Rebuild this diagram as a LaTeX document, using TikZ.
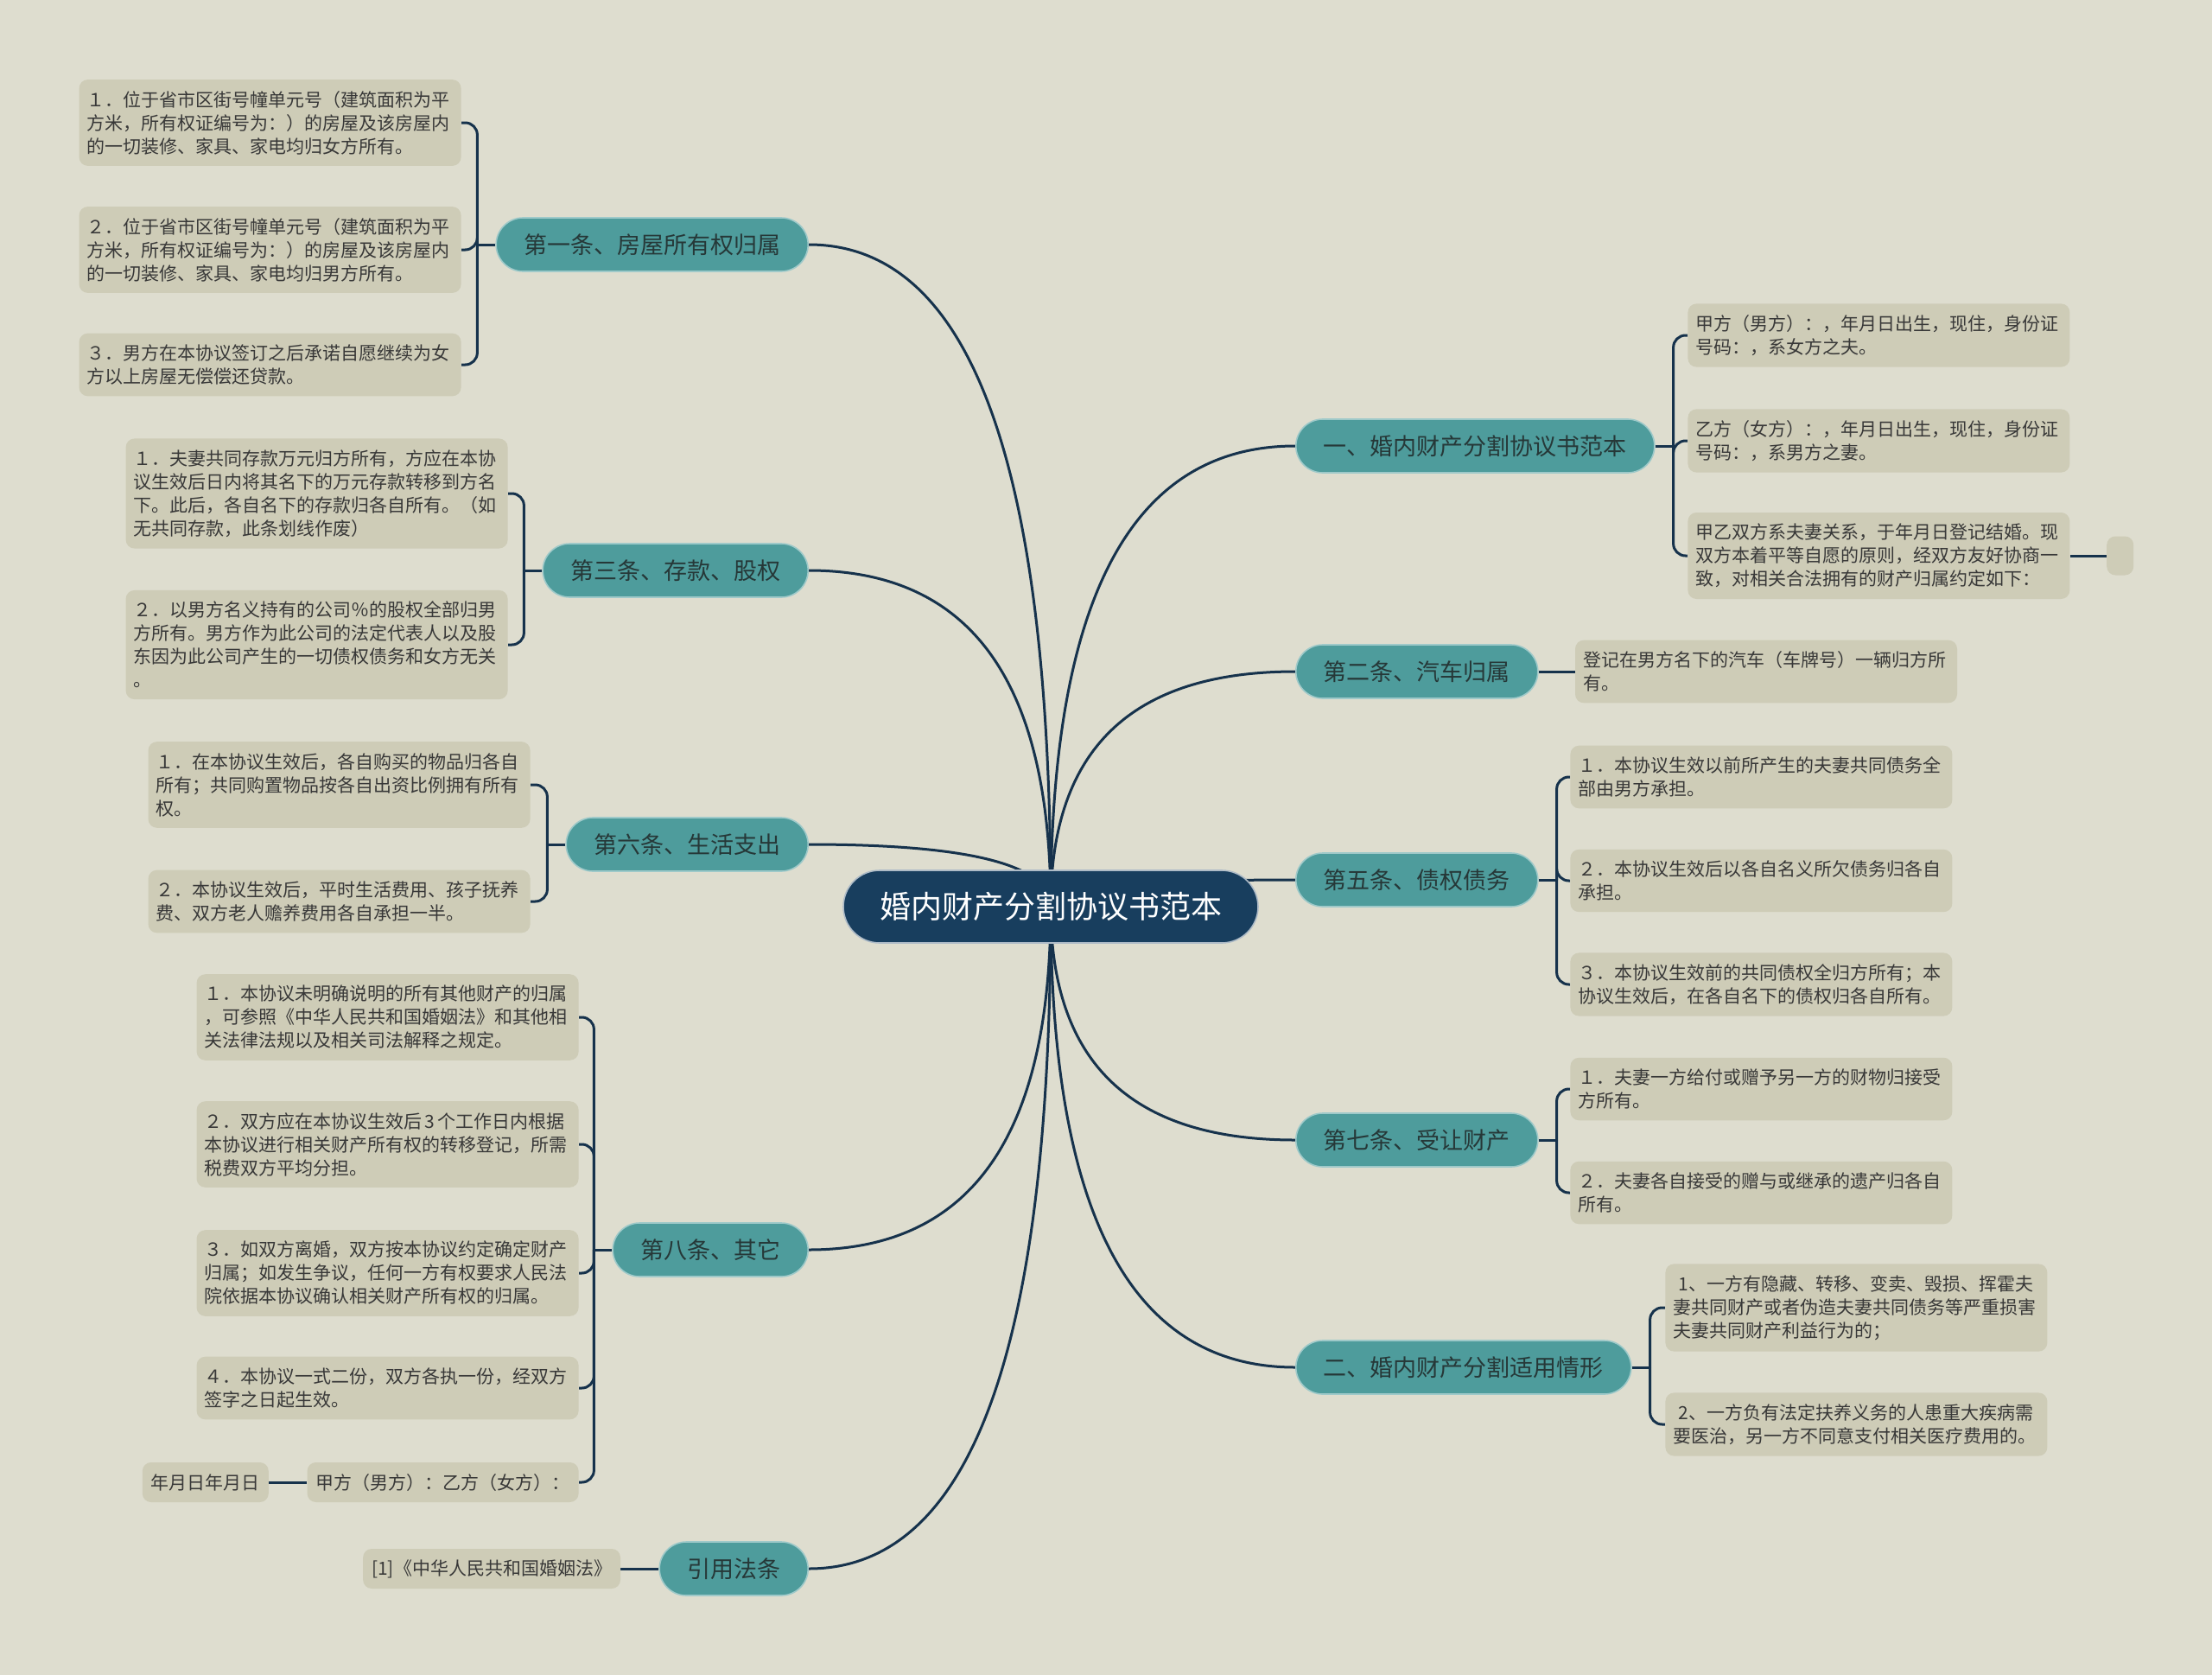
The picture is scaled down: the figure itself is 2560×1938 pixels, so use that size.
\documentclass[tikz,border=0pt]{standalone}
\usepackage{fontspec}
\setmainfont{Noto Sans CJK SC}
\usepackage{xcolor}
\usepackage{tikz}
\usetikzlibrary{positioning,calc,backgrounds}
\definecolor{paperbg}{RGB}{222,221,207}
\definecolor{rootnavy}{RGB}{24,62,94}
\definecolor{topicteal}{RGB}{78,156,156}
\definecolor{topicdark}{RGB}{38,56,56}
\definecolor{leafkhaki}{RGB}{206,204,183}
\definecolor{linknavy}{RGB}{22,50,76}

\newcommand{\limb}[1]{\draw[link] (root.center) .. controls ($(root.center)!.67!(root.center |- #1)$) and ($(#1)!.67!(root.center |- #1)$) .. (#1);}

\begin{document}
\begin{tikzpicture}[
    x=0.5pt, y=-0.5pt,
    rootbox/.style={rectangle, rounded corners=21pt, fill=rootnavy, draw=white!65!rootnavy, line width=0.8pt, text=white, font=\fontsize{18}{22}\selectfont, minimum height=42pt, inner xsep=21pt},
    topicbox/.style={rectangle, rounded corners=15.5pt, fill=topicteal, draw=white!45!topicteal, line width=0.8pt, text=topicdark, font=\fontsize{13.5}{16}\selectfont, minimum height=31pt, inner xsep=16pt},
    leafbox/.style={rectangle, rounded corners=5pt, fill=leafkhaki, text=black!78, font=\fontsize{10.5}{13.5}\selectfont, align=left, text width=212pt, inner xsep=4.5pt, inner ysep=6.5pt},
    tagbox/.style={rectangle, rounded corners=5pt, fill=leafkhaki, text=black!78, font=\fontsize{10.5}{13.5}\selectfont, minimum height=23pt, inner xsep=5pt, inner ysep=0pt},
    link/.style={draw=linknavy, line width=1.5pt},
    brace/.style={link, rounded corners=7pt}
]
\useasboundingbox (0,0) rectangle (2560,1938);
\begin{scope}[on background layer]
\fill[paperbg] (0,0) rectangle (2560,1938);
\end{scope}

\node[rootbox] (root) at (1216,1049) {婚内财产分割协议书范本};

\node[topicbox, anchor=west] (r1) at (1499,516) {一、婚内财产分割协议书范本};
\node[topicbox, anchor=west] (r2) at (1499,777) {第二条、汽车归属};
\node[topicbox, anchor=west] (r5) at (1499,1018) {第五条、债权债务};
\node[topicbox, anchor=west] (r7) at (1499,1319) {第七条、受让财产};
\node[topicbox, anchor=west] (r9) at (1499,1582) {二、婚内财产分割适用情形};

\node[topicbox, anchor=east] (l1) at (936,283) {第一条、房屋所有权归属};
\node[topicbox, anchor=east] (l3) at (936,660) {第三条、存款、股权};
\node[topicbox, anchor=east] (l6) at (936,977) {第六条、生活支出};
\node[topicbox, anchor=east] (l8) at (936,1446) {第八条、其它};
\node[topicbox, anchor=east] (lref) at (936,1815) {引用法条};

\node[leafbox, anchor=east] (l1a) at (534,142) {１．位于省市区街号幢单元号（建筑面积为平\\方米，所有权证编号为：）的房屋及该房屋内\\的一切装修、家具、家电均归女方所有。};
\node[leafbox, anchor=east] (l1b) at (534,289) {２．位于省市区街号幢单元号（建筑面积为平\\方米，所有权证编号为：）的房屋及该房屋内\\的一切装修、家具、家电均归男方所有。};
\node[leafbox, anchor=east] (l1c) at (534,422) {３．男方在本协议签订之后承诺自愿继续为女\\方以上房屋无偿偿还贷款。};

\node[leafbox, anchor=east] (l3a) at (588,571) {１．夫妻共同存款万元归方所有，方应在本协\\议生效后日内将其名下的万元存款转移到方名\\下。此后，各自名下的存款归各自所有。（如\\无共同存款，此条划线作废）};
\node[leafbox, anchor=east] (l3b) at (588,746) {２．以男方名义持有的公司％的股权全部归男\\方所有。男方作为此公司的法定代表人以及股\\东因为此公司产生的一切债权债务和女方无关\\。};

\node[leafbox, anchor=east] (l6a) at (614,908) {１．在本协议生效后，各自购买的物品归各自\\所有；共同购置物品按各自出资比例拥有所有\\权。};
\node[leafbox, anchor=east] (l6b) at (614,1043) {２．本协议生效后，平时生活费用、孩子抚养\\费、双方老人赡养费用各自承担一半。};

\node[leafbox, anchor=east] (l8a) at (670,1177) {１．本协议未明确说明的所有其他财产的归属\\，可参照《中华人民共和国婚姻法》和其他相\\关法律法规以及相关司法解释之规定。};
\node[leafbox, anchor=east] (l8b) at (670,1324) {２．双方应在本协议生效后\kern.15em 3\kern.15em 个工作日内根据\\本协议进行相关财产所有权的转移登记，所需\\税费双方平均分担。};
\node[leafbox, anchor=east] (l8c) at (670,1473) {３．如双方离婚，双方按本协议约定确定财产\\归属；如发生争议，任何一方有权要求人民法\\院依据本协议确认相关财产所有权的归属。};
\node[leafbox, anchor=east] (l8d) at (670,1606) {４．本协议一式二份，双方各执一份，经双方\\签字之日起生效。};
\node[tagbox, anchor=east] (l8e) at (670,1715) {甲方（男方）：乙方（女方）：};
\node[tagbox, left=22pt of l8e] (l8f) {年月日年月日};

\node[tagbox, left=22pt of lref] (lrefa) {[1]《中华人民共和国婚姻法》};

\node[leafbox, anchor=west] (r1a) at (1953,388) {甲方（男方）：，年月日出生，现住，身份证\\号码：，系女方之夫。};
\node[leafbox, anchor=west] (r1b) at (1953,510) {乙方（女方）：，年月日出生，现住，身份证\\号码：，系男方之妻。};
\node[leafbox, anchor=west] (r1c) at (1953,643) {甲乙双方系夫妻关系，于年月日登记结婚。现\\双方本着平等自愿的原则，经双方友好协商一\\致，对相关合法拥有的财产归属约定如下：};
\node[tagbox, right=21pt of r1c, minimum width=15.5pt, minimum height=22.5pt, inner sep=0pt] (r1d) {};

\node[leafbox, right=21pt of r2] (r2a) {登记在男方名下的汽车（车牌号）一辆归方所\\有。};

\node[leafbox, anchor=west] (r5a) at (1817,899) {１．本协议生效以前所产生的夫妻共同债务全\\部由男方承担。};
\node[leafbox, anchor=west] (r5b) at (1817,1019) {２．本协议生效后以各自名义所欠债务归各自\\承担。};
\node[leafbox, anchor=west] (r5c) at (1817,1139) {３．本协议生效前的共同债权全归方所有；本\\协议生效后，在各自名下的债权归各自所有。};

\node[leafbox, anchor=west] (r7a) at (1817,1260) {１．夫妻一方给付或赠予另一方的财物归接受\\方所有。};
\node[leafbox, anchor=west] (r7b) at (1817,1380) {２．夫妻各自接受的赠与或继承的遗产归各自\\所有。};

\node[leafbox, anchor=west] (r9a) at (1927,1513) {\hspace*{.3em}1、一方有隐藏、转移、变卖、毁损、挥霍夫\\妻共同财产或者伪造夫妻共同债务等严重损害\\夫妻共同财产利益行为的；};
\node[leafbox, anchor=west] (r9b) at (1927,1648) {\hspace*{.3em}2、一方负有法定扶养义务的人患重大疾病需\\要医治，另一方不同意支付相关医疗费用的。};

\begin{scope}[on background layer]
\foreach \p in {l1.east,l3.east,l6.east,l8.east,lref.east,r1.west,r2.west,r5.west,r7.west,r9.west}
  {\limb{\p}}

\foreach \t/\ls in {l1/{l1a,l1b,l1c},l3/{l3a,l3b},l6/{l6a,l6b},l8/{l8a,l8b,l8c,l8d,l8e}}{
  \draw[link] (\t.west) -- ++(-21,0) coordinate (k);
  \foreach \l in \ls {\draw[brace] (k) |- (\l.east);}
}
\foreach \t/\ls in {r1/{r1a,r1b,r1c},r5/{r5a,r5b,r5c},r7/{r7a,r7b},r9/{r9a,r9b}}{
  \draw[link] (\t.east) -- ++(21,0) coordinate (k);
  \foreach \l in \ls {\draw[brace] (k) |- (\l.west);}
}

\draw[link] (r2) -- (r2a);
\draw[link] (r1c) -- (r1d);
\draw[link] (lref) -- (lrefa);
\draw[link] (l8e) -- (l8f);
\end{scope}
\end{tikzpicture}
\end{document}
